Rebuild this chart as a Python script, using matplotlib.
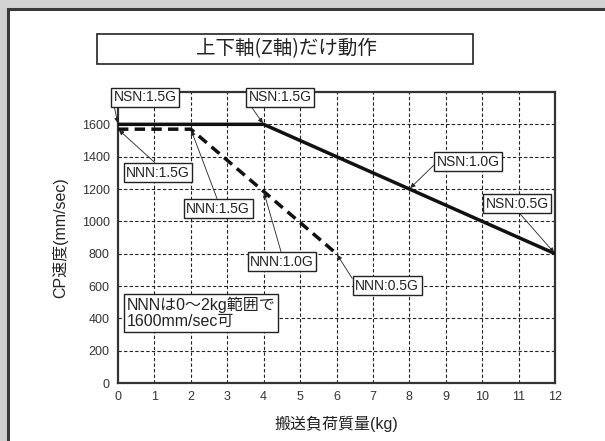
import matplotlib
matplotlib.use("Agg")
import matplotlib.pyplot as plt
from matplotlib import font_manager
from matplotlib.patches import Rectangle

# data
nsn_x = [0, 4, 12]
nsn_y = [1600, 1600, 800]
nnn_x = [0, 2, 6]
nnn_y = [1570, 1570, 800]

x_ticks = list(range(0, 13))
y_ticks = list(range(0, 1601, 200))

# labels: text, target (series, index), text position, arrow start on box
notes = [
    ("NSN:1.5G", "nsn", 0, (0.74, 1767), (0, 0.1)),
    ("NSN:1.5G", "nsn", 1, (4.45, 1767), (0, 0.1)),
    ("NNN:1.5G", "nnn", 0, (1.10, 1302), (0.5, 1)),
    ("NNN:1.5G", "nnn", 1, (2.75, 1079), (0.5, 1)),
    ("NSN:1.0G", "nsn", None, (9.62, 1370), (0, 0.45)),
    ("NSN:0.5G", "nsn", 2, (10.96, 1110), (0.5, 0)),
    ("NNN:0.5G", "nnn", 2, (7.39, 601), (0, 0.7)),
]
nnn_mid = (4, 1185)   # NNN:1.0G point
nsn_mid = (8, 1200)   # NSN:1.0G point

title = "上下軸(Z軸)だけ動作"
xlabel = "搬送負荷質量(kg)"
ylabel = "CP速度(mm/sec)"
memo = "NNNは0～2kg範囲で\n1600mm/sec可"

names = {f.name for f in font_manager.fontManager.ttflist}
narrow = "Liberation Sans Narrow" if "Liberation Sans Narrow" in names else "Liberation Sans"
jp = ["Noto Sans CJK JP", "DejaVu Sans"]
mix = ["Liberation Sans", "Noto Sans CJK JP"]

fig = plt.figure(figsize=(6.05, 4.41), dpi=100)
fig.patch.set_facecolor("#d2d2d2")
fig.add_artist(Rectangle((8 / 605, -0.05), 1.2, 1 - 9 / 441 + 0.05, transform=fig.transFigure,
                         facecolor="white", edgecolor="#3a3a3a", lw=2.2, zorder=-2))

# title box
fig.add_artist(Rectangle((97 / 605, 1 - 64 / 441), 376 / 605, 30 / 441, transform=fig.transFigure,
                         facecolor="white", edgecolor="#222222", lw=1.2, zorder=-1))
fig.text(286 / 605, 1 - 49 / 441, title, ha="center", va="center", fontsize=14,
         family=jp, color="#222222")

ax = fig.add_axes([118 / 605, 1 - 383 / 441, 437 / 605, 291 / 441])
ax.set_xlim(0, 12)
ax.set_ylim(0, 1800)
ax.set_xticks(x_ticks)
ax.set_yticks(y_ticks)
ax.set_xticklabels([str(v) for v in x_ticks], family=narrow, fontsize=9, color="#333333")
ax.set_yticklabels([str(v) for v in y_ticks], family=narrow, fontsize=9, color="#333333")
ax.tick_params(length=0, pad=6)
for v in x_ticks[1:-1]:
    ax.axvline(v, color="#222222", lw=0.8, ls=(0, (3, 2)), zorder=1)
for v in y_ticks[1:]:
    ax.axhline(v, color="#222222", lw=0.8, ls=(0, (3, 2)), zorder=1)
for s in ax.spines.values():
    s.set_linewidth(1.6)
    s.set_color("#333333")

ax.plot(nsn_x, nsn_y, color="#111111", lw=2.5, zorder=3, solid_capstyle="butt")
ax.plot(nnn_x, nnn_y, color="#111111", lw=2.5, ls=(0, (3, 1.8)), zorder=3)

ax.set_xlabel(xlabel, family=mix, fontsize=11.5, color="#222222", labelpad=9)
ax.set_ylabel(ylabel, family=mix, fontsize=11.5, color="#222222", labelpad=10)

box = dict(boxstyle="square,pad=0.18", facecolor="white", edgecolor="#222222", lw=1)


def point(series, idx):
    if series == "nsn":
        return (nsn_x[idx], nsn_y[idx]) if idx is not None else nsn_mid
    return (nnn_x[idx], nnn_y[idx]) if idx is not None else nnn_mid


for text, series, idx, pos, rel in notes:
    ax.annotate(text, xy=point(series, idx), xytext=pos, ha="center", va="center",
                family=narrow, fontsize=10, color="#222222", bbox=box, zorder=5,
                arrowprops=dict(arrowstyle="-|>", color="#222222", lw=0.6,
                                mutation_scale=7, relpos=rel, shrinkA=0, shrinkB=1))
ax.annotate("NNN:1.0G", xy=nnn_mid, xytext=(4.5, 750), ha="center", va="center",
            family=narrow, fontsize=10, color="#222222", bbox=box, zorder=5,
            arrowprops=dict(arrowstyle="-|>", color="#222222", lw=0.6,
                            mutation_scale=7, relpos=(0.5, 1), shrinkA=0, shrinkB=1))

ax.text(0.24, 535, memo, ha="left", va="top", family=mix, fontsize=11.5, color="#222222",
        linespacing=1.08, bbox=box, zorder=5)

fig.savefig("out.png", dpi=100, facecolor=fig.get_facecolor())
